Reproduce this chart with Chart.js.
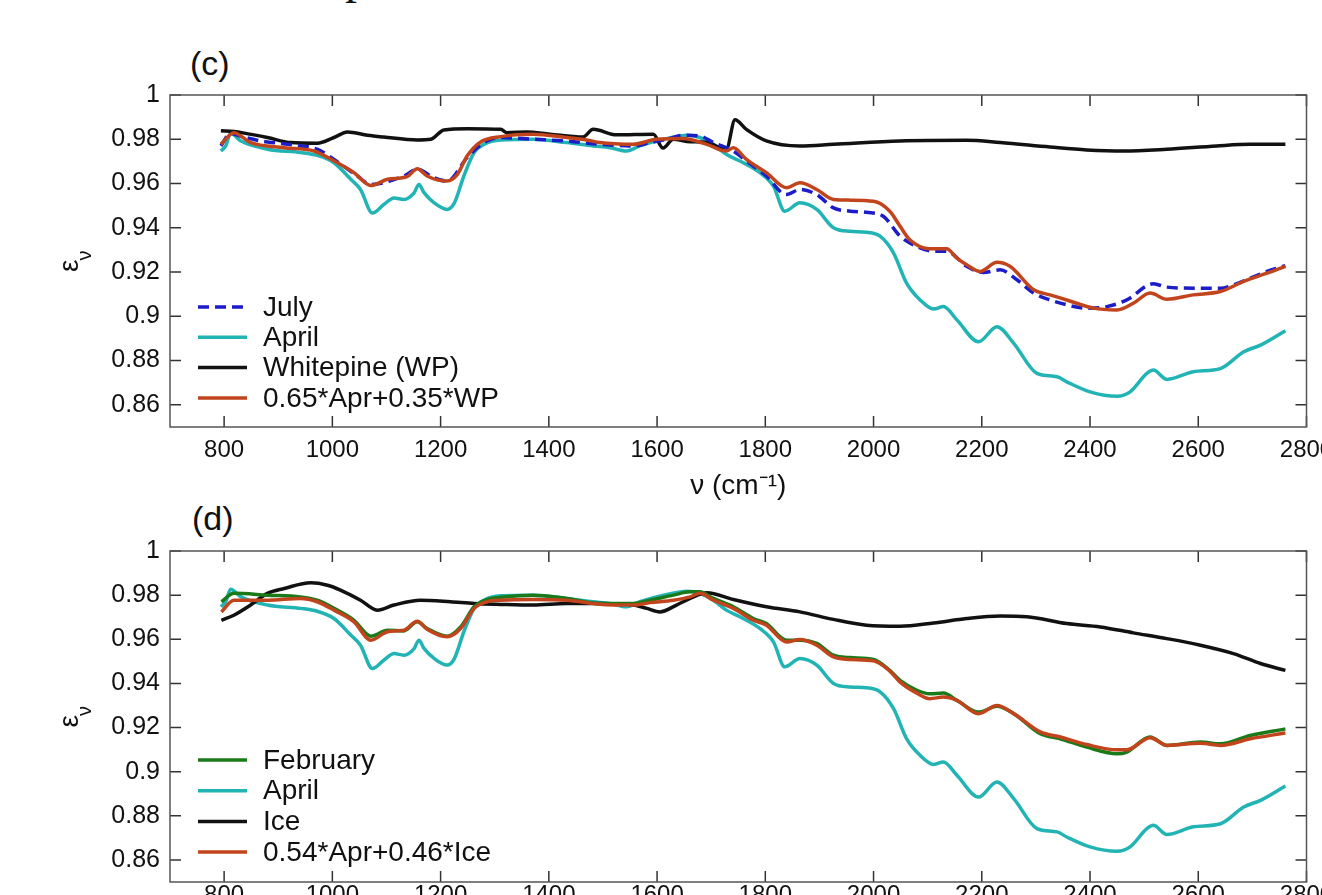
<!DOCTYPE html>
<html>
<head>
<meta charset="utf-8">
<title>Emissivity spectra</title>
<script src="https://cdn.jsdelivr.net/npm/chart.js@4.4.1/dist/chart.umd.min.js"></script>
<style>
  html, body { margin: 0; padding: 0; background: #fff; overflow: hidden; width: 1322px; height: 895px; }
  body { position: relative; font-family: 'Liberation Sans', Arial, Helvetica, sans-serif; color: #111; }
  canvas { position: absolute; left: 0; }
  #chartC { top: 0; }
  #chartD { top: 507px; }
  .panel { position: absolute; font-size: 34px; line-height: 34px; }
  .frag { position: absolute; font-family: 'Liberation Serif', 'DejaVu Serif', serif; font-size: 48px; line-height: 48px; }
</style>
</head>
<body>
<div class="frag" style="left:345px; top:-47px;">p</div>
<div class="panel" style="left:190px; top:46px;">(c)</div>
<div class="panel" style="left:192px; top:501px;">(d)</div>
<canvas id="chartC" width="1340" height="507"></canvas>
<canvas id="chartD" width="1340" height="455"></canvas>
<script>
// tick labels
const xTicks = [800, 1000, 1200, 1400, 1600, 1800, 2000, 2200, 2400, 2600, 2800];
const yTicks = [0.86, 0.88, 0.9, 0.92, 0.94, 0.96, 0.98, 1];

// panel (c): July
const julyNu = [794, 812, 818, 868, 880, 942, 972, 1003, 1046, 1071, 1132, 1157, 1188, 1212, 1249, 1280, 1309, 1371, 1433, 1494,
  1556, 1587, 1618, 1648, 1679, 1704, 1741, 1765, 1802, 1839, 1864, 1895, 1926, 1957, 1987, 2018, 2049, 2080, 2111, 2135,
  2172, 2203, 2234, 2265, 2296, 2326, 2357, 2394, 2431, 2468, 2517, 2542, 2604, 2641, 2665, 2727, 2761];
const julyEps = [0.977, 0.9828, 0.9823, 0.9792, 0.9788, 0.977, 0.9755, 0.9709, 0.9634, 0.9596, 0.9634, 0.9664, 0.9626, 0.9611, 0.9717, 0.9785, 0.9808, 0.980, 0.9792, 0.9777,
  0.977, 0.9785, 0.980, 0.9818, 0.9815, 0.9785, 0.9747, 0.9702, 0.9634, 0.955, 0.9573, 0.955, 0.949, 0.9475, 0.947, 0.9452, 0.9362, 0.9316, 0.9294, 0.9294,
  0.9226, 0.9198, 0.921, 0.9165, 0.9105, 0.9074, 0.9052, 0.9037, 0.9044, 0.9074, 0.9147, 0.9132, 0.9127, 0.9127, 0.9142, 0.9203, 0.9229];

// April (same curve in both panels)
const aprilNu = [794, 803, 812, 831, 880, 942, 972, 1003, 1034, 1052, 1074, 1095, 1114, 1132, 1151, 1160, 1169, 1188, 1212, 1225,
  1243, 1262, 1280, 1311, 1371, 1433, 1482, 1513, 1544, 1568, 1618, 1655, 1679, 1704, 1728, 1753, 1790, 1815, 1836, 1864,
  1895, 1926, 1957, 1987, 2012, 2037, 2061, 2086, 2111, 2129, 2154, 2194, 2228, 2259, 2302, 2339, 2357, 2400, 2450, 2474,
  2505, 2517, 2542, 2591, 2641, 2684, 2715, 2761];
const aprilEps = [0.9747, 0.977, 0.9827, 0.9792, 0.9755, 0.974, 0.9727, 0.9694, 0.9619, 0.9573, 0.9467, 0.9505, 0.9535, 0.9528, 0.9558, 0.9596, 0.956, 0.9513, 0.9483, 0.951,
  0.9634, 0.974, 0.9777, 0.9797, 0.980, 0.9785, 0.977, 0.9762, 0.9747, 0.977, 0.9803, 0.9818, 0.9808, 0.9777, 0.9732, 0.9702, 0.9649, 0.9588, 0.9475, 0.9513,
  0.9483, 0.940, 0.9384, 0.938, 0.9362, 0.9286, 0.915, 0.9074, 0.9033, 0.9044, 0.8984, 0.8885, 0.8953, 0.8878, 0.8742, 0.8727, 0.8704, 0.8659, 0.8639, 0.8659,
  0.8742, 0.8757, 0.8715, 0.875, 0.8764, 0.884, 0.887, 0.8935];

// Whitepine (WP)
const wpNu = [794, 818, 850, 880, 923, 972, 1003, 1028, 1065, 1095, 1157, 1182, 1206, 1249, 1311, 1322, 1359, 1402, 1463, 1482,
  1525, 1593, 1611, 1630, 1655, 1692, 1728, 1744, 1765, 1802, 1864, 1926, 2049, 2172, 2234, 2326, 2394, 2462, 2542, 2634,
  2696, 2761];
const wpEps = [0.9838, 0.9835, 0.9822, 0.9808, 0.9785, 0.9782, 0.9808, 0.9833, 0.9818, 0.981, 0.9797, 0.980, 0.9842, 0.9848, 0.9845, 0.983, 0.9833, 0.9823, 0.981, 0.9845,
  0.982, 0.9823, 0.976, 0.980, 0.979, 0.9785, 0.9755, 0.9888, 0.9845, 0.9793, 0.977, 0.9777, 0.9792, 0.9795, 0.9785, 0.9765, 0.9752, 0.9747, 0.9755, 0.977,
  0.9777, 0.9777];

// 0.65*Apr+0.35*WP
const mixCNu = [794, 818, 849, 911, 966, 1003, 1040, 1071, 1102, 1138, 1157, 1175, 1212, 1231, 1249, 1274, 1311, 1371, 1433, 1470,
  1494, 1556, 1599, 1648, 1692, 1728, 1741, 1765, 1802, 1839, 1864, 1895, 1926, 1957, 2000, 2030, 2049, 2067, 2104, 2135,
  2154, 2172, 2197, 2228, 2252, 2296, 2326, 2357, 2406, 2450, 2480, 2511, 2542, 2591, 2641, 2684, 2727, 2761];
const mixCEps = [0.9777, 0.983, 0.9785, 0.9762, 0.9747, 0.9702, 0.9649, 0.9591, 0.9619, 0.9631, 0.9667, 0.9634, 0.9611, 0.9641, 0.9724, 0.9788, 0.9812, 0.9823, 0.9808, 0.9797,
  0.9785, 0.9777, 0.980, 0.9803, 0.9777, 0.9747, 0.9762, 0.9709, 0.9649, 0.9581, 0.9603, 0.9573, 0.9528, 0.9525, 0.952, 0.9475, 0.9407, 0.9346, 0.9305, 0.9305,
  0.9263, 0.9233, 0.9203, 0.9244, 0.9226, 0.912, 0.9097, 0.9074, 0.9037, 0.9029, 0.9059, 0.9105, 0.9077, 0.9097, 0.9112, 0.9158, 0.9195, 0.9226];

// panel (d): February
const febNu = [795, 818, 880, 941, 972, 1003, 1040, 1071, 1102, 1132, 1157, 1175, 1212, 1237, 1262, 1286, 1311, 1371, 1433, 1494,
  1556, 1587, 1630, 1661, 1679, 1704, 1741, 1778, 1802, 1839, 1864, 1895, 1926, 1957, 2000, 2030, 2049, 2080, 2104, 2129,
  2154, 2194, 2228, 2259, 2308, 2345, 2394, 2450, 2468, 2511, 2542, 2604, 2641, 2696, 2761];
const febEps = [0.977, 0.9808, 0.980, 0.9792, 0.9777, 0.974, 0.9686, 0.9614, 0.9641, 0.9638, 0.9679, 0.9649, 0.9614, 0.9656, 0.9747, 0.978, 0.979, 0.980, 0.9785, 0.9762,
  0.9762, 0.9777, 0.980, 0.9815, 0.9815, 0.9785, 0.9747, 0.9694, 0.9671, 0.9596, 0.9596, 0.9581, 0.9528, 0.9517, 0.9508, 0.9459, 0.9414, 0.9369, 0.9353, 0.9356,
  0.9323, 0.927, 0.9296, 0.9263, 0.9172, 0.9149, 0.9111, 0.9081, 0.9089, 0.9157, 0.9119, 0.9134, 0.9126, 0.9164, 0.9194];

// Ice
const iceNu = [795, 818, 849, 880, 911, 960, 991, 1015, 1052, 1083, 1114, 1163, 1218, 1262, 1311, 1371, 1433, 1494, 1556, 1581,
  1605, 1636, 1661, 1692, 1741, 1802, 1864, 1926, 1987, 2049, 2111, 2172, 2234, 2283, 2357, 2419, 2480, 2542, 2604, 2665,
  2715, 2761];
const iceEps = [0.9686, 0.9709, 0.9755, 0.9808, 0.983, 0.9856, 0.9845, 0.9823, 0.9777, 0.9732, 0.9755, 0.9777, 0.977, 0.9762, 0.9758, 0.9755, 0.9762, 0.9762, 0.9755, 0.974,
  0.9724, 0.9755, 0.9785, 0.9811, 0.978, 0.9747, 0.9724, 0.969, 0.9664, 0.9659, 0.9674, 0.9694, 0.9705, 0.9702, 0.9671, 0.9656, 0.9629, 0.9603, 0.9573, 0.9535,
  0.949, 0.9459];

// 0.54*Apr+0.46*Ice
const mixDNu = [795, 818, 880, 941, 972, 1003, 1040, 1071, 1102, 1132, 1157, 1175, 1212, 1237, 1262, 1286, 1311, 1371, 1433, 1494,
  1556, 1587, 1630, 1661, 1679, 1704, 1741, 1778, 1802, 1839, 1864, 1895, 1926, 1957, 2000, 2030, 2049, 2080, 2104, 2129,
  2154, 2194, 2228, 2259, 2308, 2345, 2394, 2450, 2468, 2511, 2542, 2604, 2641, 2696, 2761];
const mixDEps = [0.9724, 0.9777, 0.9777, 0.9785, 0.977, 0.9732, 0.9679, 0.9596, 0.9634, 0.9641, 0.9682, 0.9645, 0.9611, 0.9649, 0.974, 0.977, 0.9777, 0.978, 0.9777, 0.9759,
  0.9755, 0.9766, 0.9777, 0.9792, 0.9808, 0.9777, 0.974, 0.9686, 0.9664, 0.9588, 0.9599, 0.9573, 0.952, 0.9508, 0.9502, 0.9456, 0.9406, 0.9356, 0.9331, 0.9338,
  0.9323, 0.9263, 0.930, 0.9263, 0.918, 0.9157, 0.9123, 0.9099, 0.9099, 0.9154, 0.9119, 0.9129, 0.9119, 0.9149, 0.9175];

const FONT = "'Liberation Sans', Arial, Helvetica, sans-serif";
const TICK_LEN = 11;

Chart.defaults.font.family = FONT;
Chart.defaults.color = '#111';

function series(nu, eps) {
    return nu.map((v, i) => ({ x: v, y: eps[i] }));
}

function line(label, nu, eps, color, order, dash) {
    return {
        label,
        data: series(nu, eps),
        borderColor: color,
        borderWidth: 3.5,
        borderDash: dash || [],
        pointRadius: 0,
        fill: false,
        cubicInterpolationMode: 'monotone',
        order
    };
}

// box round the plot with inward tick marks on all four sides
const framePlugin = {
    id: 'frame',
    afterDatasetsDraw(chart) {
        const { ctx, chartArea: a, scales: { x, y } } = chart;
        ctx.save();
        ctx.strokeStyle = '#333';
        ctx.lineWidth = 1.5;
        ctx.beginPath();
        x.ticks.forEach(t => {
            const px = x.getPixelForValue(t.value);
            ctx.moveTo(px, a.top); ctx.lineTo(px, a.top + TICK_LEN);
            ctx.moveTo(px, a.bottom); ctx.lineTo(px, a.bottom - TICK_LEN);
        });
        y.ticks.forEach(t => {
            const py = y.getPixelForValue(t.value);
            ctx.moveTo(a.left, py); ctx.lineTo(a.left + TICK_LEN, py);
            ctx.moveTo(a.right, py); ctx.lineTo(a.right - TICK_LEN, py);
        });
        ctx.stroke();
        ctx.strokeStyle = '#555';
        ctx.strokeRect(a.left, a.top, a.right - a.left, a.bottom - a.top);
        ctx.restore();
    }
};

// epsilon with subscript nu, rotated
const yTitlePlugin = {
    id: 'yTitle',
    afterDraw(chart) {
        const { ctx, chartArea: a } = chart;
        const cy = (a.top + a.bottom) / 2;
        ctx.save();
        ctx.translate(78, cy + 11);
        ctx.rotate(-Math.PI / 2);
        ctx.fillStyle = '#111';
        ctx.textAlign = 'left';
        ctx.textBaseline = 'alphabetic';
        ctx.font = '28px ' + FONT;
        ctx.fillText('ε', 0, 0);
        const w = ctx.measureText('ε').width;
        ctx.font = '20px ' + FONT;
        ctx.fillText('ν', w - 1, 13);
        ctx.restore();
    }
};

// legend drawn inside the plot, lower left
const insetLegend = {
    id: 'insetLegend',
    afterDraw(chart, args, opts) {
        const { ctx } = chart;
        ctx.save();
        ctx.font = '28px ' + FONT;
        ctx.textBaseline = 'middle';
        ctx.textAlign = 'left';
        chart.data.datasets.forEach((ds, i) => {
            const yy = opts.top + i * opts.step;
            ctx.strokeStyle = ds.borderColor;
            ctx.lineWidth = ds.borderWidth;
            ctx.setLineDash(ds.borderDash);
            ctx.beginPath();
            ctx.moveTo(opts.left, yy);
            ctx.lineTo(opts.left + 49, yy);
            ctx.stroke();
            ctx.setLineDash([]);
            ctx.fillStyle = '#111';
            ctx.fillText(ds.label, opts.left + 65, yy + 1);
        });
        ctx.restore();
    }
};

function buildPanel(canvasId, datasets, topPad, legendTop, legendStep, tickPad) {
    const ctx = document.getElementById(canvasId).getContext('2d');
    return new Chart(ctx, {
        type: 'line',
        data: { datasets },
        options: {
            responsive: false,
            animation: false,
            layout: { padding: { top: topPad, right: 33.5, bottom: 0, left: 0 } },
            plugins: {
                legend: { display: false },
                tooltip: { enabled: false },
                insetLegend: { left: 198, top: legendTop, step: legendStep }
            },
            scales: {
                x: {
                    type: 'linear',
                    min: 700,
                    max: 2800,
                    afterBuildTicks: s => { s.ticks = xTicks.map(v => ({ value: v })); },
                    afterFit: s => { s.height = 80; s.paddingLeft = 0; s.paddingRight = 0; },
                    grid: { display: false, drawTicks: false },
                    border: { display: false },
                    ticks: {
                        autoSkip: false,
                        maxRotation: 0,
                        padding: tickPad,
                        font: { size: 24 },
                        callback: v => String(v)
                    },
                    title: {
                        display: true,
                        text: 'ν (cm⁻¹)',
                        font: { size: 28 },
                        padding: { top: 0, bottom: 4 }
                    }
                },
                y: {
                    type: 'linear',
                    min: 0.85,
                    max: 1,
                    afterBuildTicks: s => { s.ticks = yTicks.map(v => ({ value: v })); },
                    afterFit: s => { s.width = 170; s.paddingTop = 0; s.paddingBottom = 0; },
                    grid: { display: false, drawTicks: false },
                    border: { display: false },
                    ticks: {
                        padding: 10,
                        font: { size: 25 },
                        callback: v => String(v)
                    }
                }
            }
        },
        plugins: [framePlugin, yTitlePlugin, insetLegend]
    });
}

const CYAN = '#22b4b4';
const RUST = '#c2441c';

buildPanel('chartC', [
    line('July', julyNu, julyEps, '#1c1cc8', 1, [11, 6]),
    line('April', aprilNu, aprilEps, CYAN, 3),
    line('Whitepine (WP)', wpNu, wpEps, '#111111', 2),
    line('0.65*Apr+0.35*WP', mixCNu, mixCEps, RUST, 0)
], 95, 307, 30.3, 9);

buildPanel('chartD', [
    line('February', febNu, febEps, '#1a7a1a', 1),
    line('April', aprilNu, aprilEps, CYAN, 3),
    line('Ice', iceNu, iceEps, '#111111', 2),
    line('0.54*Apr+0.46*Ice', mixDNu, mixDEps, RUST, 0)
], 44, 253, 30.7, -1);
</script>
</body>
</html>
